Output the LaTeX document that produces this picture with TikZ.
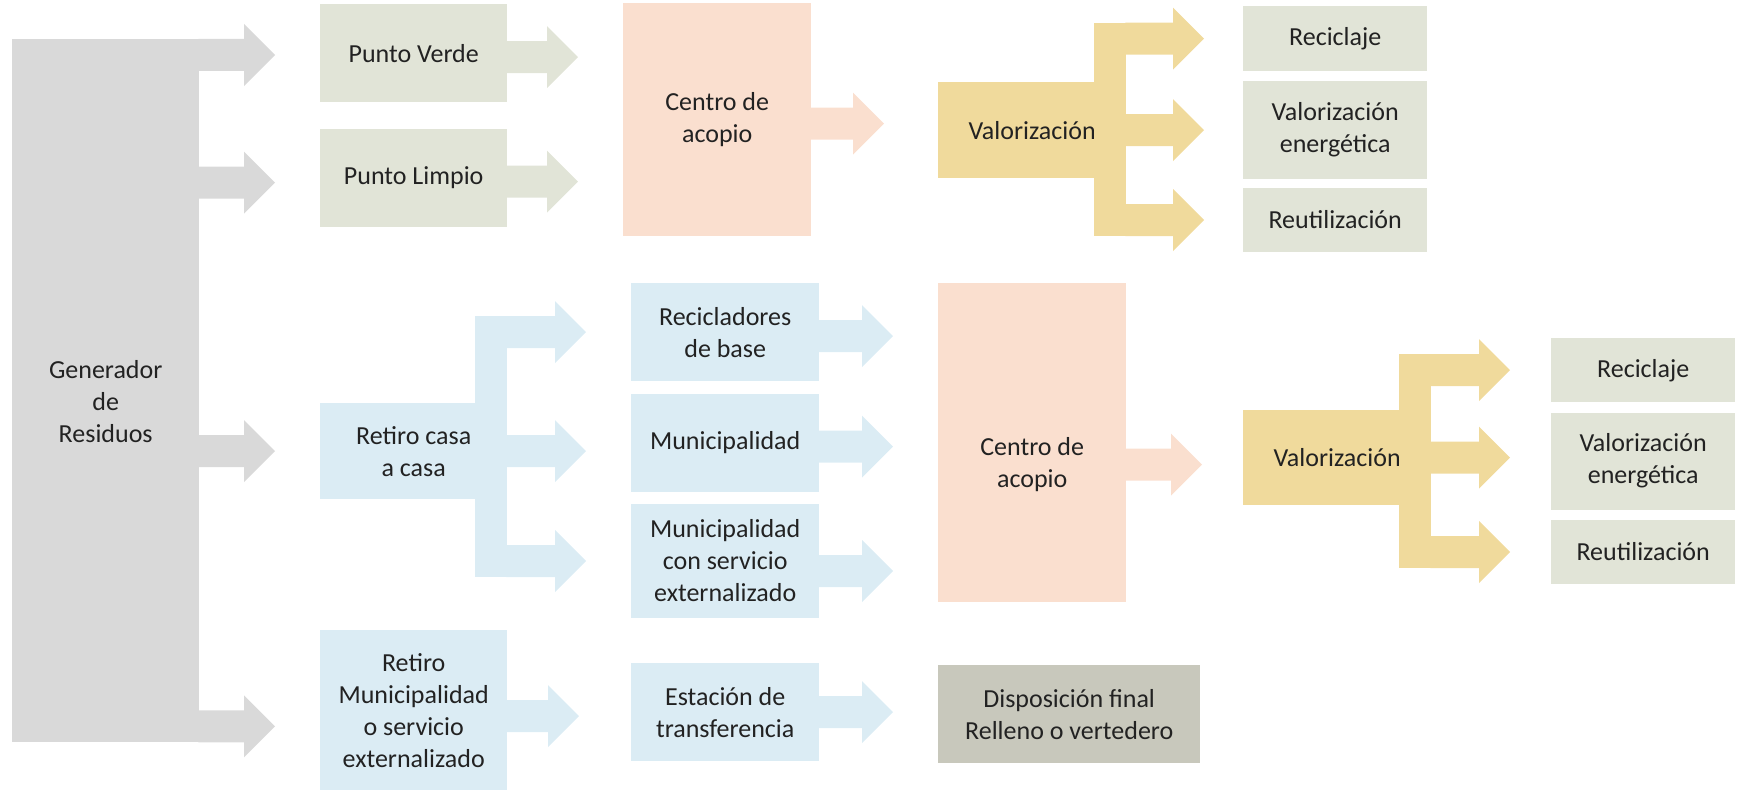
\documentclass[tikz,border=0pt]{standalone}
\usepackage{fontspec}
\setmainfont{Carlito}
\usetikzlibrary{positioning,calc}
\definecolor{graybg}{HTML}{D9D9D9}
\definecolor{greenbg}{HTML}{E1E4D7}
\definecolor{peachbg}{HTML}{FADFCF}
\definecolor{yellowbg}{HTML}{F0DA9C}
\definecolor{bluebg}{HTML}{DBECF4}
\definecolor{dispbg}{HTML}{C8C8BC}
\definecolor{txtcol}{HTML}{222222}
\newcommand{\fatarrow}[4][45pt]{%
  \fill[#2] let \p1=(#3), \p2=(#4) in
    (\x1,\y1+16pt) -- (\x2-#1-31pt,\y1+16pt) -- (\x2-#1-31pt,\y1+31pt) -- (\x2-#1,\y1)
    -- (\x2-#1-31pt,\y1-31pt) -- (\x2-#1-31pt,\y1-16pt) -- (\x1,\y1-16pt) -- cycle;}
\begin{document}
\begin{tikzpicture}[x=1pt, y=-1pt,
    txt/.style = {inner sep=0pt, align=center, text=txtcol, font=\fontsize{26}{32}\selectfont},
    box/.style = {txt, rectangle, anchor=north west}]
    \useasboundingbox (0,0) rectangle (1737,792);

    \node[box, fill=graybg, minimum width=187pt, minimum height=703pt] (gen) at (12,39) {};
    \node[txt] (gentxt) at ($(gen.center)+(0,11)$) {Generador\\de\\Residuos};

    \node[box, fill=greenbg, minimum width=187pt, minimum height=98pt] (pv) at (320,4) {Punto Verde};
    \node[box, fill=greenbg, minimum width=187pt, minimum height=98pt, below=26pt of pv] (pl) {Punto Limpio};
    \node[box, fill=bluebg, minimum width=187pt, minimum height=96pt] (rcc) at (320,403) {Retiro casa\\a casa};
    \node[box, fill=bluebg, minimum width=187pt, minimum height=160pt] (rm) at (320,630) {Retiro\\Municipalidad\\o servicio\\externalizado};

    \node[box, fill=peachbg, minimum width=188pt, minimum height=233pt] (ca1) at (623,3) {Centro de\\acopio};
    \node[box, fill=bluebg, minimum width=188pt, minimum height=98pt] (rb) at (631,283) {Recicladores\\de base};
    \node[box, fill=bluebg, minimum width=188pt, minimum height=98pt, below=12pt of rb] (muni) {Municipalidad};
    \node[box, fill=bluebg, minimum width=188pt, minimum height=114pt, below=12pt of muni] (mcse) {Municipalidad\\con servicio\\externalizado};
    \node[box, fill=bluebg, minimum width=188pt, minimum height=98pt] (est) at (631,663) {Estación de\\transferencia};

    \node[box, fill=yellowbg, minimum width=188pt, minimum height=96pt] (val1) at (938,82) {Valorización};
    \node[box, fill=peachbg, minimum width=188pt, minimum height=319pt] (ca2) at (938,283) {};
    \node[txt] (ca2txt) at ($(ca2.center)+(0,22)$) {Centro de\\acopio};
    \node[box, fill=dispbg, minimum width=262pt, minimum height=98pt] (disp) at (938,665) {Disposición final\\Relleno o vertedero};

    \node[box, fill=greenbg, minimum width=184pt, minimum height=65pt] (rec1) at (1243,6) {Reciclaje};
    \node[box, fill=greenbg, minimum width=184pt, minimum height=98pt, below=9pt of rec1] (ve1) {Valorización\\energética};
    \node[box, fill=greenbg, minimum width=184pt, minimum height=64pt, below=9pt of ve1] (reut1) {Reutilización};
    \node[box, fill=yellowbg, minimum width=188pt, minimum height=95pt] (val2) at (1243,410) {Valorización};

    \node[box, fill=greenbg, minimum width=184pt, minimum height=64pt] (rec2) at (1551,338) {Reciclaje};
    \node[box, fill=greenbg, minimum width=184pt, minimum height=97pt, below=10pt of rec2] (ve2) {Valorización\\energética};
    \node[box, fill=greenbg, minimum width=184pt, minimum height=64pt, below=10pt of ve2] (reut2) {Reutilización};

    \fatarrow{graybg}{$(gen.north east)+(-1,16)$}{pv.west}
    \fatarrow{graybg}{$(gen.east |- pl.west)+(-1,5)$}{pl.west}
    \fatarrow{graybg}{$(gen.east |- rcc.west)+(-1,0)$}{rcc.west}
    \fatarrow{graybg}{$(gen.south east)+(-1,-16)$}{rm.west}

    \fatarrow{greenbg}{$(pv.east)+(-1,4)$}{ca1.west}
    \fatarrow{greenbg}{$(pl.east)+(-1,4)$}{ca1.west}
    \fatarrow[54pt]{peachbg}{$(ca1.east)+(-1,4)$}{val1.west}

    \fill[yellowbg] ($(val1.east |- rec1.west)+(-32,-16)$) rectangle ($(val1.east |- reut1.west)+(0,16)$);
    \fatarrow[39pt]{yellowbg}{$(val1.east |- rec1.west)+(-1,0)$}{rec1.west}
    \fatarrow[39pt]{yellowbg}{$(val1.east)+(-1,0)$}{ve1.west}
    \fatarrow[39pt]{yellowbg}{$(val1.east |- reut1.west)+(-1,0)$}{reut1.west}

    \fill[bluebg] ($(rcc.east |- rb.west)+(-32,-16)$) rectangle ($(rcc.east |- mcse.west)+(0,16)$);
    \fatarrow{bluebg}{$(rcc.east |- rb.west)+(-1,0)$}{rb.west}
    \fatarrow{bluebg}{$(rcc.east)+(-1,0)$}{muni.west}
    \fatarrow{bluebg}{$(rcc.east |- mcse.west)+(-1,0)$}{mcse.west}
    \fatarrow[52pt]{bluebg}{$(rm.east |- est.west)+(-1,4)$}{est.west}

    \fatarrow{bluebg}{$(rb.east)+(-1,4)$}{ca2.west}
    \fatarrow{bluebg}{$(muni.east)+(-1,4)$}{ca2.west}
    \fatarrow{bluebg}{$(mcse.east)+(-1,10)$}{ca2.west}
    \fatarrow{bluebg}{$(est.east)+(-1,0)$}{disp.west}
    \fatarrow[41pt]{peachbg}{$(ca2.east)+(-1,22)$}{val2.west}

    \fill[yellowbg] ($(val2.east |- rec2.west)+(-32,-16)$) rectangle ($(val2.east |- reut2.west)+(0,16)$);
    \fatarrow[41pt]{yellowbg}{$(val2.east |- rec2.west)+(-1,0)$}{rec2.west}
    \fatarrow[41pt]{yellowbg}{$(val2.east)+(-1,0)$}{ve2.west}
    \fatarrow[41pt]{yellowbg}{$(val2.east |- reut2.west)+(-1,0)$}{reut2.west}
\end{tikzpicture}
\end{document}
